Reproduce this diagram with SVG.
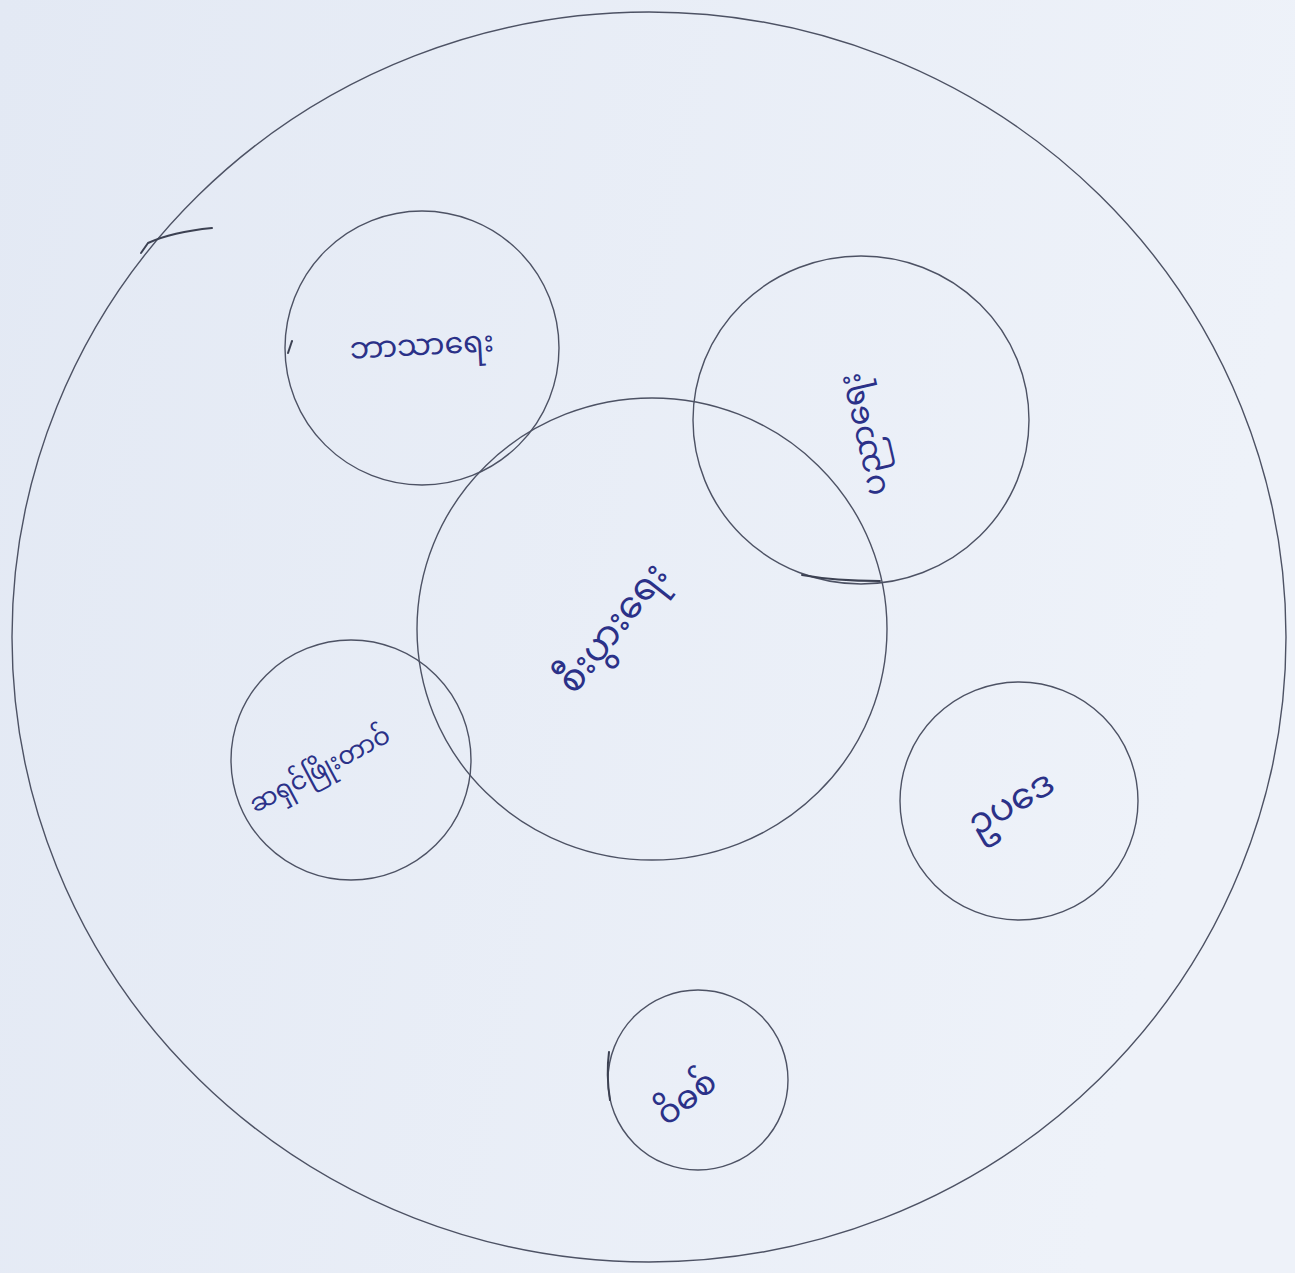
<svg xmlns="http://www.w3.org/2000/svg" width="1295" height="1273" viewBox="0 0 1295 1273">
  <defs>
    <linearGradient id="paper" x1="0" y1="0" x2="1" y2="0.2">
      <stop offset="0" stop-color="#e3e9f4"/>
      <stop offset="1" stop-color="#eef2f9"/>
    </linearGradient>
    <style>
      .ring { fill: none; stroke: #4d5264; stroke-width: 1.4; }
      .mark { fill: none; stroke: #3c4152; stroke-width: 2; stroke-linecap: round; }
      .lbl { fill: #2b3188; font-family: "Noto Sans Myanmar", "Padauk", "Myanmar Text", "Noto Sans", sans-serif; font-size: 30px; text-anchor: middle; dominant-baseline: central; }
    </style>
  </defs>
  <rect width="1295" height="1273" fill="url(#paper)"/>

  <g id="node-outer">
    <ellipse class="ring" cx="649" cy="637" rx="637" ry="625"/>
    <path class="mark" d="M141,253 L148,243 Q172,232 212,228"/>
  </g>

  <g id="node-religion">
    <circle class="ring" cx="422" cy="348" r="137"/>
    <path class="mark" d="M292,341 L288,353"/>
    <text class="lbl" x="422" y="348" transform="rotate(-3 422 348)">ဘာသာရေး</text>
  </g>

  <g id="node-education">
    <ellipse class="ring" cx="861" cy="420" rx="168" ry="164"/>
    <path class="mark" d="M802,575 Q835,581 880,581"/>
    <text class="lbl" x="866" y="434" style="font-size:32px" transform="rotate(-103 866 434)">ပညာရေး</text>
  </g>

  <g id="node-economy">
    <ellipse class="ring" cx="652" cy="629" rx="235" ry="231"/>
    <text class="lbl" x="615" y="630" style="font-size:37px" transform="rotate(-52 615 630)">စီးပွားရေး</text>
  </g>

  <g id="node-left">
    <circle class="ring" cx="351" cy="760" r="120"/>
    <text class="lbl" x="321" y="772" style="font-size:25px" transform="rotate(-28 321 772)">ဆရှင်ဖြိုးတာဝ်</text>
  </g>

  <g id="node-law">
    <circle class="ring" cx="1019" cy="801" r="119"/>
    <text class="lbl" x="1012" y="806" style="font-size:36px" transform="rotate(-30 1012 806)">ဥပဒေ</text>
  </g>

  <g id="node-bottom">
    <circle class="ring" cx="698" cy="1080" r="90"/>
    <path class="mark" d="M609,1052 Q606,1075 610,1100"/>
    <text class="lbl" x="688" y="1100" style="font-size:33px" transform="rotate(-38 688 1100)">ဝိဓစ်</text>
  </g>

  <g id="connectors"/>
</svg>
